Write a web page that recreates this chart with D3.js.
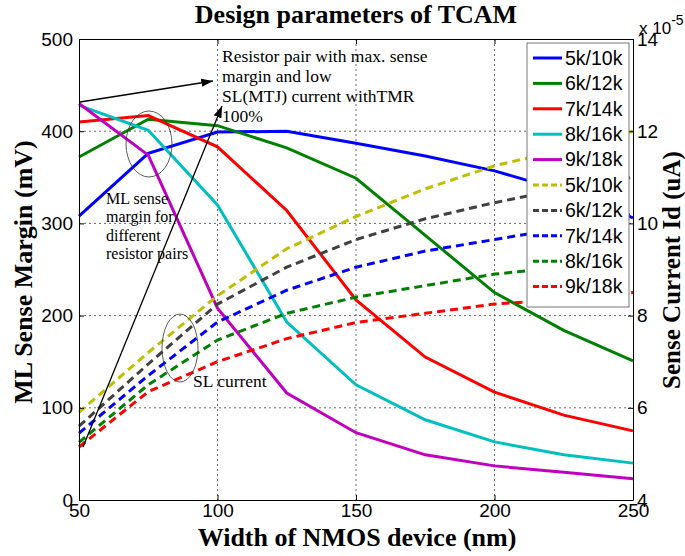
<!DOCTYPE html>
<html>
<head>
<meta charset="utf-8">
<script src="https://cdn.jsdelivr.net/npm/d3@7"></script>
<style>
body { margin: 0; background: #fff; }
svg { display: block; }
.tick line { stroke: #000; }
</style>
</head>
<body>
<svg id="chart" width="685" height="556"></svg>
<script>
// x values (nm)
var widths = [50, 75, 100, 125, 150, 175, 200, 225, 250];
var pairNames = ["5k/10k", "6k/12k", "7k/14k", "8k/16k", "9k/18k"];

// ML sense margin (mV), left axis
var margin5k = [308, 376, 399, 400, 387, 373, 357, 335, 306];
var margin6k = [372, 413, 406, 382, 349, 287, 225, 184, 151];
var margin7k = [410, 417, 383, 314, 217, 155, 117, 92, 75];
var margin8k = [428, 401, 320, 193, 125, 87, 63, 49, 40];
var margin9k = [430, 374, 208, 116, 73, 49, 37, 30, 23];

// SL current (x 10^-5), right axis
var current5k = [5.9, 7.2, 8.43, 9.45, 10.15, 10.75, 11.25, 11.6, 12.0];
var current6k = [5.6, 6.95, 8.25, 9.05, 9.65, 10.1, 10.45, 10.75, 11.0];
var current7k = [5.45, 6.7, 7.86, 8.55, 9.05, 9.4, 9.65, 9.9, 10.2];
var current8k = [5.25, 6.5, 7.47, 8.05, 8.4, 8.65, 8.9, 9.05, 9.2];
var current9k = [5.15, 6.35, 7.0, 7.5, 7.85, 8.05, 8.25, 8.35, 8.5];

var xTicks = [50, 100, 150, 200, 250];
var leftTicks = [0, 100, 200, 300, 400, 500];
var rightTicks = [4, 6, 8, 10, 12, 14];

var solidColors = ["#0000ff", "#008000", "#ff0000", "#00bfbf", "#bf00bf"];
var dashColors = ["#bfbf00", "#404040", "#0000ff", "#008000", "#ff0000"];

var plotL = 79, plotR = 633, plotT = 39, plotB = 500;

var svg = d3.select("#chart");

var xScale = d3.scaleLinear().domain([50, 250]).range([plotL, plotR]);
var yLeft = d3.scaleLinear().domain([0, 500]).range([plotB, plotT]);
var yRight = d3.scaleLinear().domain([4, 14]).range([plotB, plotT]);

// grid
var grid = svg.append("g").attr("stroke", "#444").attr("stroke-width", 0.8)
    .attr("stroke-dasharray", "2,3");
[100, 150, 200].forEach(function(v) {
    grid.append("line").attr("x1", xScale(v)).attr("x2", xScale(v))
        .attr("y1", plotT).attr("y2", plotB);
});
[100, 200, 300, 400].forEach(function(v) {
    grid.append("line").attr("x1", plotL).attr("x2", plotR)
        .attr("y1", yLeft(v)).attr("y2", yLeft(v));
});

// lines
var solidSeries = [margin5k, margin6k, margin7k, margin8k, margin9k];
var dashSeries = [current5k, current6k, current7k, current8k, current9k];

var lineLeft = d3.line()
    .x(function(d, i) { return xScale(widths[i]); })
    .y(function(d) { return yLeft(d); });
var lineRight = d3.line()
    .x(function(d, i) { return xScale(widths[i]); })
    .y(function(d) { return yRight(d); });

svg.append("g").selectAll("path")
    .data(solidSeries)
    .enter()
    .append("path")
    .attr("d", lineLeft)
    .attr("fill", "none")
    .attr("stroke", function(d, i) { return solidColors[i]; })
    .attr("stroke-width", 3);

svg.append("g").selectAll("path")
    .data(dashSeries)
    .enter()
    .append("path")
    .attr("d", lineRight)
    .attr("fill", "none")
    .attr("stroke", function(d, i) { return dashColors[i]; })
    .attr("stroke-width", 3)
    .attr("stroke-dasharray", "8,5");

// axes (MATLAB style, ticks inside)
var tickFont = "'Liberation Sans', Arial, sans-serif";

var xAxis = d3.axisBottom(xScale).tickValues(xTicks).tickSizeInner(-5).tickSizeOuter(0).tickPadding(4);
var xTop = d3.axisTop(xScale).tickValues(xTicks).tickSizeInner(-5).tickSizeOuter(0).tickFormat("");
var yAxisL = d3.axisLeft(yLeft).tickValues(leftTicks).tickSizeInner(-5).tickSizeOuter(0).tickPadding(6);
var yAxisR = d3.axisRight(yRight).tickValues(rightTicks).tickSizeInner(-5).tickSizeOuter(0).tickPadding(4);

function styleAxis(g) {
    g.select(".domain").attr("stroke", "#000").attr("stroke-width", 1);
    g.selectAll("text").attr("font-family", tickFont).attr("font-size", 19).attr("fill", "#000");
}

svg.append("g").attr("transform", "translate(0," + plotB + ")").call(xAxis).call(styleAxis);
svg.append("g").attr("transform", "translate(0," + plotT + ")").call(xTop).call(styleAxis);
svg.append("g").attr("transform", "translate(" + plotL + ",0)").call(yAxisL).call(styleAxis);
svg.append("g").attr("transform", "translate(" + plotR + ",0)").call(yAxisR).call(styleAxis);

// exponent marker, sits just above the top right tick label as in MATLAB
var expo = svg.append("text").attr("x", 639).attr("y", 34)
    .attr("font-family", tickFont).attr("font-size", 17);
expo.append("tspan").text("x 10");
expo.append("tspan").attr("dy", -9).attr("font-size", 14).text("-5");

// titles
var serif = "'Liberation Serif', 'Times New Roman', serif";
svg.append("text").attr("x", 356).attr("y", 23).attr("text-anchor", "middle")
    .attr("font-family", serif).attr("font-weight", "bold").attr("font-size", 26)
    .text("Design parameters of TCAM");
svg.append("text").attr("x", 357).attr("y", 546).attr("text-anchor", "middle")
    .attr("font-family", serif).attr("font-weight", "bold").attr("font-size", 26)
    .text("Width of NMOS device (nm)");
svg.append("text").attr("transform", "translate(32,272) rotate(-90)").attr("text-anchor", "middle")
    .attr("font-family", serif).attr("font-weight", "bold").attr("font-size", 26)
    .text("ML Sense Margin (mV)");
svg.append("text").attr("transform", "translate(680,270) rotate(-90)").attr("text-anchor", "middle")
    .attr("font-family", serif).attr("font-weight", "bold").attr("font-size", 25)
    .text("Sense Current Id (uA)");

// annotations
svg.append("defs").append("marker")
    .attr("id", "arrow").attr("viewBox", "0 0 10 10").attr("refX", 10).attr("refY", 5)
    .attr("markerWidth", 9).attr("markerHeight", 9).attr("orient", "auto")
    .append("path").attr("d", "M0,1.5 L10,5 L0,8.5 Z").attr("fill", "#000");

svg.append("line").attr("x1", 80).attr("y1", 102).attr("x2", 213).attr("y2", 81)
    .attr("stroke", "#000").attr("stroke-width", 1.3).attr("marker-end", "url(#arrow)");
svg.append("line").attr("x1", 83).attr("y1", 447).attr("x2", 222).attr("y2", 106)
    .attr("stroke", "#000").attr("stroke-width", 1.3).attr("marker-end", "url(#arrow)");

svg.append("ellipse").attr("cx", 149).attr("cy", 144).attr("rx", 23).attr("ry", 33)
    .attr("fill", "none").attr("stroke", "#333").attr("stroke-width", 0.8);
svg.append("ellipse").attr("cx", 180).attr("cy", 348).attr("rx", 18).attr("ry", 34)
    .attr("fill", "none").attr("stroke", "#333").attr("stroke-width", 0.8);

var note1 = ["Resistor pair with max. sense", "margin and low", "SL(MTJ) current withTMR", "100%"];
svg.append("g").selectAll("text").data(note1).enter().append("text")
    .attr("x", 222).attr("y", function(d, i) { return 62 + i * 20; })
    .attr("font-family", serif).attr("font-size", 17.5).text(function(d) { return d; });

var note2 = ["ML sense", "margin for", "different", "resistor pairs"];
svg.append("g").selectAll("text").data(note2).enter().append("text")
    .attr("x", 106).attr("y", function(d, i) { return 204 + i * 18.3; })
    .attr("font-family", serif).attr("font-size", 16).text(function(d) { return d; });

svg.append("text").attr("x", 193).attr("y", 387)
    .attr("font-family", serif).attr("font-size", 17.5).text("SL current");

// legend
var legendNames = pairNames.concat(pairNames);
var legendColors = solidColors.concat(dashColors);
var legend = svg.append("g");
legend.append("rect").attr("x", 527).attr("y", 43).attr("width", 102).attr("height", 264)
    .attr("fill", "#fff").attr("stroke", "#777").attr("stroke-width", 1);
var rows = legend.selectAll("g.row").data(legendNames).enter().append("g").attr("class", "row")
    .attr("transform", function(d, i) { return "translate(0," + (58 + i * 25.4) + ")"; });
rows.append("line").attr("x1", 533).attr("x2", 562).attr("y1", 0).attr("y2", 0)
    .attr("stroke", function(d, i) { return legendColors[i]; })
    .attr("stroke-width", 3)
    .attr("stroke-dasharray", function(d, i) { return i < 5 ? null : "6,3"; });
rows.append("text").attr("x", 565).attr("y", 0).attr("dy", "0.35em")
    .attr("font-family", tickFont).attr("font-size", 19.5).text(function(d) { return d; });
</script>
</body>
</html>
